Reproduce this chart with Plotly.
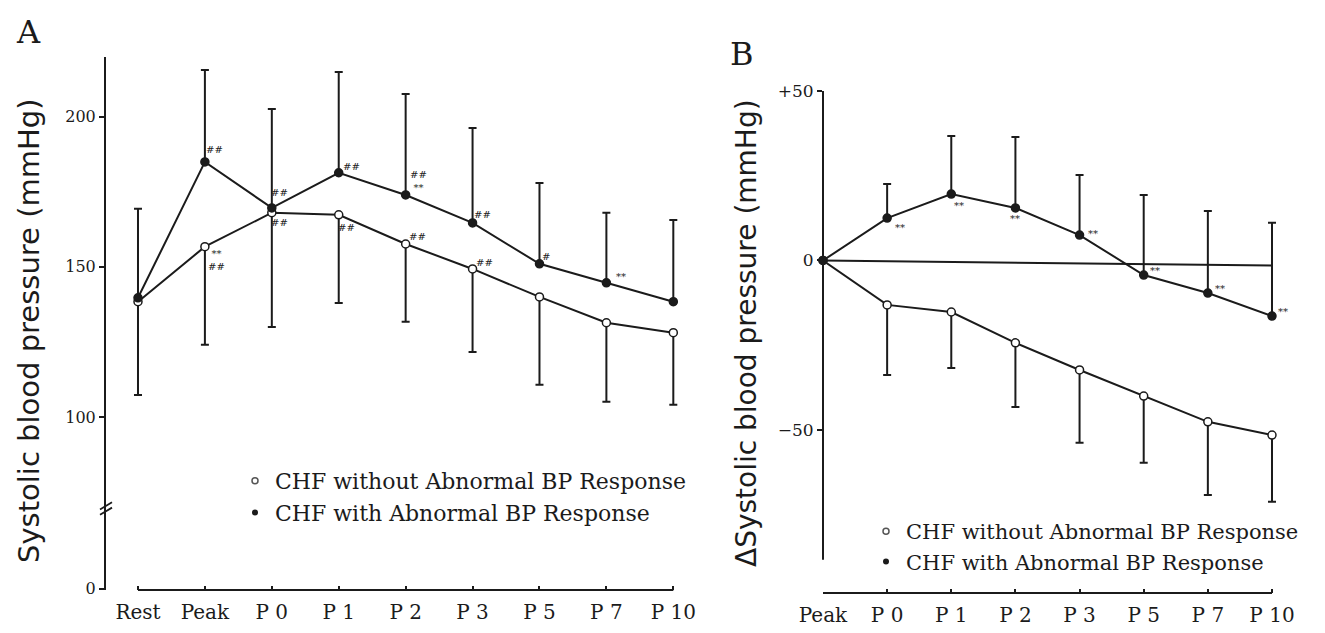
import plotly.graph_objects as go

# ---------------- data ----------------
A_categories = ["Rest", "Peak", "P 0", "P 1", "P 2", "P 3", "P 5", "P 7", "P 10"]
A_without_mean = [138.4, 156.7, 168.0, 167.3, 157.6, 149.3, 140.0, 131.4, 128.1]
A_without_sd = [31.0, 32.6, 38.0, 29.3, 25.9, 27.6, 29.2, 26.3, 24.0]
A_with_mean = [139.7, 184.9, 169.6, 181.3, 173.9, 164.6, 151.0, 144.7, 138.4]
A_with_sd = [29.6, 30.6, 32.9, 33.5, 33.6, 31.6, 26.9, 23.3, 27.2]
A_with_marks = ["", "##", "##", "##", "##<br>**", "##", "#", "**", ""]
A_without_marks = ["", "**<br>##", "##", "##", "##", "##", "", "", ""]
A_ytick_vals = [43.0, 100, 150, 200]
A_ytick_text = ["0", "100", "150", "200"]

B_categories = ["Peak", "P 0", "P 1", "P 2", "P 3", "P 5", "P 7", "P 10"]
B_without_mean = [0, -13.1, -15.2, -24.3, -32.3, -40.0, -47.6, -51.5]
B_without_sd = [0, 20.7, 16.5, 18.9, 21.5, 19.7, 21.6, 19.7]
B_with_mean = [0, 12.5, 19.6, 15.5, 7.5, -4.3, -9.6, -16.4]
B_with_sd = [0, 10.1, 17.1, 20.9, 17.7, 23.6, 24.2, 27.5]
B_with_marks = ["", "**", "**", "**", "**", "**", "**", "**"]
B_reference_line = [0, -1.5]
B_ytick_vals = [50, 0, -50]
B_ytick_text = ["+50", "0", "\u221250"]

name_without = "CHF without Abnormal BP Response"
name_with = "CHF with Abnormal BP Response"

# ---------------- styling / layout constants ----------------
W, H = 1325, 633
INK = "#1b1b1b"
SERIF = "DejaVu Serif"
SANS = "DejaVu Sans"

def px_x(p):
    return p / W

def px_y(p):
    return (H - p) / H

A_xdom = [px_x(106), px_x(680)]
A_ydom = [px_y(590), px_y(57)]
A_xrange = [-0.478, 8.1]
A_yrange = [42.5, 219.8]

B_xdom = [px_x(823), px_x(1278.4)]
B_ydom = [px_y(593), px_y(91)]
B_xrange = [0, 7.1]
B_yrange = [-98.1, 50]
B_yaxis_bottom = -88.3

# offsets (px) for significance marks: (dx, dy downward)
A_with_off = [None, (10, -12), (8, -15), (13, -6), (13, -14), (10, -8), (7, -7), (15, -6), None]
A_without_off = [None, (12, 13), (8, 10), (8, 13), (12, -7), (12, -6), None, None, None]
B_with_off = [None, (13, 9), (8, 11), (0, 11), (13, -2), (11, -5), (12, -5), (11, -5)]

fig = go.Figure()

def add_series(x, mean, sd, up, filled, xa, ya):
    zeros = [0] * len(sd)
    fig.add_trace(go.Scatter(
        x=x, y=mean, mode="lines+markers",
        xaxis=xa, yaxis=ya, showlegend=False, cliponaxis=False,
        line=dict(color=INK, width=2),
        marker=dict(symbol="circle", size=8,
                    color=INK if filled else "white",
                    line=dict(color=INK, width=1.5)),
        error_y=dict(type="data", symmetric=False,
                     array=sd if up else zeros,
                     arrayminus=zeros if up else sd,
                     color=INK, thickness=2, width=4),
        hoverinfo="skip",
    ))

# Panel A
add_series(A_categories, A_without_mean, A_without_sd, False, False, "x", "y")
add_series(A_categories, A_with_mean, A_with_sd, True, True, "x", "y")
# Panel B
add_series(B_categories, B_without_mean, B_without_sd, False, False, "x2", "y2")
add_series(B_categories, B_with_mean, B_with_sd, True, True, "x2", "y2")

# legend entries
for leg, xa, ya in [("legend", "x", "y"), ("legend2", "x2", "y2")]:
    fig.add_trace(go.Scatter(x=[None], y=[None], mode="markers", name=name_without,
                             xaxis=xa, yaxis=ya, legend=leg,
                             marker=dict(size=6, color="white", line=dict(color="#555", width=1.5))))
    fig.add_trace(go.Scatter(x=[None], y=[None], mode="markers", name=name_with,
                             xaxis=xa, yaxis=ya, legend=leg,
                             marker=dict(size=6, color=INK)))

annotations = []

def add_marks(cats, means, marks, offs, xr, yr):
    for c, m, t, o in zip(cats, means, marks, offs):
        if not t:
            continue
        annotations.append(dict(x=c, y=m, xref=xr, yref=yr, text=t, showarrow=False,
                                xanchor="center", yanchor="middle",
                                xshift=o[0], yshift=-o[1],
                                font=dict(family=SERIF, size=10, color=INK)))

add_marks(A_categories, A_with_mean, A_with_marks, A_with_off, "x", "y")
add_marks(A_categories, A_without_mean, A_without_marks, A_without_off, "x", "y")
add_marks(B_categories, B_with_mean, B_with_marks, B_with_off, "x2", "y2")

# panel letters and y titles
annotations += [
    dict(x=px_x(28), y=px_y(32), xref="paper", yref="paper", text="A", showarrow=False,
         xanchor="center", yanchor="middle", font=dict(family=SERIF, size=32, color=INK)),
    dict(x=px_x(742), y=px_y(54), xref="paper", yref="paper", text="B", showarrow=False,
         xanchor="center", yanchor="middle", font=dict(family=SERIF, size=32, color=INK)),
    dict(x=px_x(29), y=px_y(331), xref="paper", yref="paper", textangle=-90,
         xanchor="center", yanchor="middle",
         text="Systolic blood pressure (mmHg)", showarrow=False,
         font=dict(family=SANS, size=29, color=INK)),
    dict(x=px_x(746), y=px_y(333), xref="paper", yref="paper", textangle=-90,
         xanchor="center", yanchor="middle",
         text="\u0394Systolic blood pressure (mmHg)", showarrow=False,
         font=dict(family=SANS, size=28, color=INK)),
]

# axis lines drawn as shapes (offset axes like the original)
ax_line = dict(color=INK, width=2)
shapes = [
    # panel A x baseline from Rest to P10
    dict(type="line", xref="x", yref="paper", x0=0, x1=8, y0=A_ydom[0], y1=A_ydom[0], line=ax_line),
    # panel B y axis (stops above baseline)
    dict(type="line", xref="paper", yref="y2", x0=B_xdom[0], x1=B_xdom[0],
         y0=B_yrange[1], y1=B_yaxis_bottom, line=ax_line),
    # panel B x baseline from Peak to P10
    dict(type="line", xref="x2", yref="paper", x0=0, x1=7, y0=B_ydom[0], y1=B_ydom[0], line=ax_line),
    # panel B zero reference line
    dict(type="line", xref="x2", yref="y2", x0=0, x1=7, y0=B_reference_line[0], y1=B_reference_line[1],
         line=dict(color=INK, width=2)),
]
# axis break marks on panel A y axis
bx = A_xdom[0]
dxp = 6 / W
yb = 70.5
shapes.append(dict(type="path", xref="paper", yref="y",
                   path=f"M {bx - dxp},{yb - 1.2} L {bx + dxp},{yb + 1.2} M {bx - dxp},{yb - 3.0} L {bx + dxp},{yb - 0.6}",
                   line=dict(color=INK, width=1.8)))

tickfont_x = dict(family=SERIF, size=20, color=INK)
tickfont_yA = dict(family=SERIF, size=16, color=INK)
tickfont_yB = dict(family=SERIF, size=17, color=INK)

common_x = dict(showline=False, showgrid=False, zeroline=False, automargin=False,
                ticks="inside", ticklen=4, tickwidth=1.5, tickcolor=INK,
                tickfont=tickfont_x, ticklabelstandoff=8, type="category")

fig.update_layout(
    template="none",
    width=W, height=H,
    margin=dict(l=0, r=0, t=0, b=0, pad=0, autoexpand=False),
    paper_bgcolor="white", plot_bgcolor="white",
    font=dict(family=SERIF, color=INK),
    showlegend=True,
    annotations=annotations,
    shapes=shapes,
    xaxis=dict(domain=A_xdom, range=A_xrange, anchor="y",
               categoryorder="array", categoryarray=A_categories, **common_x),
    yaxis=dict(domain=A_ydom, range=A_yrange, anchor="x", automargin=False,
               showline=True, linecolor=INK, linewidth=2, showgrid=False, zeroline=False,
               tickmode="array", tickvals=A_ytick_vals, ticktext=A_ytick_text,
               ticks="outside", ticklen=5, tickwidth=1.5, tickcolor=INK, tickfont=tickfont_yA),
    xaxis2=dict(domain=B_xdom, range=B_xrange, anchor="y2",
                categoryorder="array", categoryarray=B_categories, **common_x),
    yaxis2=dict(domain=B_ydom, range=B_yrange, anchor="x2", automargin=False,
                showline=False, showgrid=False, zeroline=False,
                tickmode="array", tickvals=B_ytick_vals, ticktext=B_ytick_text,
                ticks="outside", ticklen=5, tickwidth=1.5, tickcolor=INK, tickfont=tickfont_yB),
    legend=dict(x=px_x(235), y=px_y(460), xanchor="left", yanchor="top",
                bgcolor="rgba(0,0,0,0)", borderwidth=0,
                font=dict(family=SERIF, size=22, color=INK), tracegroupgap=0),
    legend2=dict(x=px_x(866), y=px_y(511), xanchor="left", yanchor="top",
                 bgcolor="rgba(0,0,0,0)", borderwidth=0,
                 font=dict(family=SERIF, size=21, color=INK), tracegroupgap=0),
)

fig.write_html("out.html")
